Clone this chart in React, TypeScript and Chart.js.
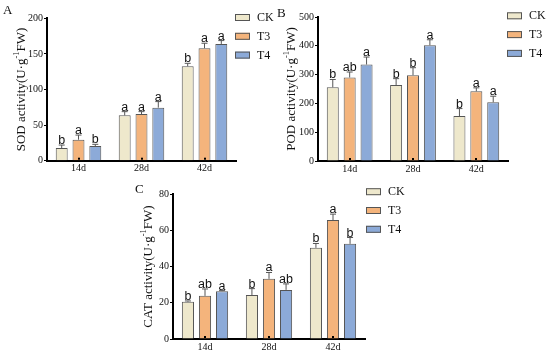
import React, { useEffect, useRef } from "react";
import { Chart, registerables } from "chart.js";
Chart.register(...registerables);

const categories = ["14d", "28d", "42d"];
const seriesNames = ["CK", "T3", "T4"];
const seriesColors = ["#EEE8CC", "#F4B47C", "#8CAAD8"];

// SOD (panel A)
const sodCK = [17.8, 63.7, 132.6];
const sodT3 = [29.5, 65.6, 158];
const sodT4 = [20.6, 74.5, 164];
const sodErrCK = [4.2, 5.2, 4.2];
const sodErrT3 = [6.5, 3.3, 7];
const sodErrT4 = [2.4, 8.5, 4.7];
const sodLetCK = ["b", "a", "b"];
const sodLetT3 = ["a", "a", "a"];
const sodLetT4 = ["b", "a", "a"];

// POD (panel B)
const podCK = [256, 264, 156];
const podT3 = [290, 298, 242];
const podT4 = [335, 402, 204];
const podErrCK = [27, 22, 26];
const podErrT3 = [19, 26, 12];
const podErrT4 = [26, 19, 21];
const podLetCK = ["b", "b", "b"];
const podLetT3 = ["ab", "b", "a"];
const podLetT4 = ["a", "a", "a"];

// CAT (panel C)
const catCK = [20.6, 24.3, 50.3];
const catT3 = [23.8, 33.2, 65.6];
const catT4 = [26.4, 27.1, 52.5];
const catErrCK = [0.4, 3.5, 2.4];
const catErrT3 = [3.8, 3.5, 3.3];
const catErrT4 = [0.3, 3.3, 3.5];
const catLetCK = ["b", "b", "b"];
const catLetT3 = ["ab", "a", "a"];
const catLetT4 = ["a", "ab", "b"];

const SERIF = "'Liberation Serif', 'Times New Roman', serif";
const SANS = "'Liberation Sans', Arial, sans-serif";

const decorPlugin = {
  id: "decor",
  afterDatasetsDraw(chart: any, _args: any, opts: any) {
    const ctx = chart.ctx;
    const ys = chart.scales.y;
    ctx.save();
    chart.data.datasets.forEach((ds: any, di: number) => {
      const meta = chart.getDatasetMeta(di);
      meta.data.forEach((bar: any, i: number) => {
        const v = ds.data[i];
        const e = ds.errors[i];
        const yTop = ys.getPixelForValue(v + e);
        ctx.strokeStyle = "#555";
        ctx.lineWidth = 1;
        ctx.beginPath();
        ctx.moveTo(bar.x, bar.y);
        ctx.lineTo(bar.x, yTop);
        ctx.moveTo(bar.x - 3, yTop);
        ctx.lineTo(bar.x + 3, yTop);
        ctx.stroke();
        ctx.fillStyle = "#111";
        ctx.font = `12.5px ${SANS}`;
        ctx.textAlign = "center";
        ctx.textBaseline = "alphabetic";
        ctx.fillText(ds.letters[i], bar.x, yTop - 1);
      });
    });
    ctx.restore();
  },
  afterDraw(chart: any, _args: any, opts: any) {
    const ctx = chart.ctx;
    const area = chart.chartArea;
    const xs = chart.scales.x;
    ctx.save();
    // small inward tick marks at category centers
    ctx.fillStyle = "#000";
    categories.forEach((_c, i) => {
      const px = xs.getPixelForValue(i);
      ctx.fillRect(Math.round(px) - 1, area.bottom - 3, 2, 2);
    });
    // y-axis title with superscript
    const parts = [
      { t: opts.titleMain, f: `13px ${SERIF}`, dy: 0 },
      { t: "-1", f: `8.5px ${SERIF}`, dy: -5 },
      { t: "FW)", f: `13px ${SERIF}`, dy: 0 },
    ];
    let total = 0;
    parts.forEach((p) => {
      ctx.font = p.f;
      total += ctx.measureText(p.t).width;
    });
    ctx.translate(opts.titleX, (area.top + area.bottom) / 2);
    ctx.rotate(-Math.PI / 2);
    ctx.fillStyle = "#111";
    ctx.textBaseline = "middle";
    ctx.textAlign = "left";
    let cx = -total / 2;
    parts.forEach((p) => {
      ctx.font = p.f;
      ctx.fillText(p.t, cx, p.dy);
      cx += ctx.measureText(p.t).width;
    });
    ctx.setTransform(1, 0, 0, 1, 0, 0);
    // panel letter
    ctx.font = `13px ${SERIF}`;
    ctx.textAlign = "left";
    ctx.textBaseline = "alphabetic";
    ctx.fillStyle = "#111";
    ctx.fillText(opts.panel, opts.panelX, opts.panelY);
    // legend
    chart.data.datasets.forEach((ds: any, di: number) => {
      const cy = opts.legendY + di * 18.8;
      ctx.fillStyle = ds.backgroundColor;
      ctx.fillRect(opts.legendX, cy - 3.5, 15, 7);
      ctx.strokeStyle = "#555";
      ctx.lineWidth = 1;
      ctx.strokeRect(opts.legendX + 0.5, cy - 3.5 + 0.5, 14, 6);
      ctx.fillStyle = "#111";
      ctx.font = `12px ${SERIF}`;
      ctx.textBaseline = "middle";
      ctx.fillText(ds.label, opts.legendX + 22, cy + 0.5);
    });
    ctx.restore();
  },
};

type PanelProps = {
  left: number;
  top: number;
  W: number;
  H: number;
  area: { l: number; r: number; t: number; b: number };
  yMax: number;
  yStep: number;
  values: number[][];
  errors: number[][];
  letters: string[][];
  titleMain: string;
  titleX: number;
  panel: string;
  panelX: number;
  panelY: number;
  legendX: number;
  legendY: number;
};

function Panel(p: PanelProps) {
  const ref = useRef<HTMLCanvasElement | null>(null);
  useEffect(() => {
    if (!ref.current) return;
    const yW = 40;
    const xH = 14;
    const chart = new Chart(ref.current, {
      type: "bar",
      data: {
        labels: categories,
        datasets: seriesNames.map((name, si) => ({
          label: name,
          data: p.values[si],
          errors: p.errors[si],
          letters: p.letters[si],
          backgroundColor: seriesColors[si],
          borderColor: "#555",
          borderWidth: 1,
          categoryPercentage: 0.8,
          barPercentage: 0.71,
        })) as any,
      },
      options: {
        responsive: false,
        animation: false,
        layout: {
          autoPadding: false,
          padding: {
            left: p.area.l - yW,
            right: p.W - p.area.r,
            top: p.area.t,
            bottom: p.H - p.area.b - xH,
          },
        } as any,
        plugins: {
          legend: { display: false },
          tooltip: { enabled: false },
          decor: {
            titleMain: p.titleMain,
            titleX: p.titleX,
            panel: p.panel,
            panelX: p.panelX,
            panelY: p.panelY,
            legendX: p.legendX,
            legendY: p.legendY,
          },
        } as any,
        scales: {
          x: {
            afterFit: (s: any) => {
              s.height = xH;
            },
            grid: { display: false, drawTicks: false },
            border: { display: true, color: "#000", width: 2 },
            ticks: {
              font: { family: SERIF, size: 10 },
              color: "#111",
              padding: 2,
              maxRotation: 0,
              autoSkip: false,
            },
          },
          y: {
            min: 0,
            max: p.yMax,
            afterFit: (s: any) => {
              s.width = yW;
            },
            grid: {
              display: true,
              drawOnChartArea: false,
              drawTicks: true,
              tickLength: 3,
              color: "#000",
            },
            border: { display: true, color: "#000", width: 2 },
            ticks: {
              stepSize: p.yStep,
              font: { family: SERIF, size: 10 },
              color: "#111",
              padding: 1,
            },
          },
        },
      },
      plugins: [decorPlugin as any],
    });
    return () => chart.destroy();
  }, []);
  return (
    <canvas
      ref={ref}
      width={p.W}
      height={p.H}
      style={{ position: "absolute", left: p.left, top: p.top, width: p.W, height: p.H }}
    />
  );
}

export default function App() {
  return (
    <div style={{ position: "fixed", left: 0, top: 0, width: 550, height: 355, background: "#fff" }}>
      <Panel
        left={0}
        top={0}
        W={275}
        H={177}
        area={{ l: 47, r: 236, t: 18.3, b: 160.7 }}
        yMax={200}
        yStep={50}
        values={[sodCK, sodT3, sodT4]}
        errors={[sodErrCK, sodErrT3, sodErrT4]}
        letters={[sodLetCK, sodLetT3, sodLetT4]}
        titleMain="SOD activity(U·g"
        titleX={22}
        panel="A"
        panelX={3}
        panelY={14}
        legendX={235}
        legendY={17.5}
      />
      <Panel
        left={270}
        top={0}
        W={280}
        H={177}
        area={{ l: 48, r: 238, t: 17, b: 161 }}
        yMax={500}
        yStep={100}
        values={[podCK, podT3, podT4]}
        errors={[podErrCK, podErrT3, podErrT4]}
        letters={[podLetCK, podLetT3, podLetT4]}
        titleMain="POD activity(U·g"
        titleX={21.5}
        panel="B"
        panelX={7}
        panelY={17}
        legendX={237}
        legendY={15.8}
      />
      <Panel
        left={125}
        top={177}
        W={300}
        H={178}
        area={{ l: 48, r: 240, t: 17, b: 162 }}
        yMax={80}
        yStep={20}
        values={[catCK, catT3, catT4]}
        errors={[catErrCK, catErrT3, catErrT4]}
        letters={[catLetCK, catLetT3, catLetT4]}
        titleMain="CAT activity(U·g"
        titleX={24}
        panel="C"
        panelX={10}
        panelY={16}
        legendX={241}
        legendY={14.7}
      />
    </div>
  );
}
